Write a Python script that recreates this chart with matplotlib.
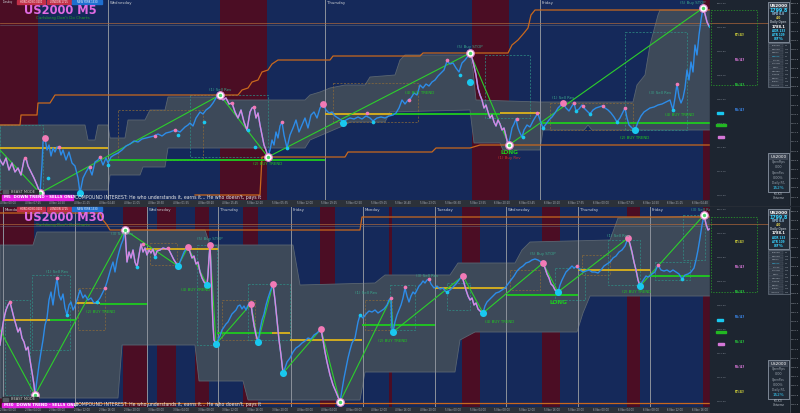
import numpy as np
import matplotlib.pyplot as plt
from matplotlib.patches import Rectangle, Polygon

W, H = 800, 413
CHART_W = 710

navy = '#15295a'
maroon = '#4b0d24'
band_grey = '#3d4959'
band_edge = '#5a6571'
blue = '#2d8ce8'
pink = '#da88dc'
green = '#1fcb1f'
yellow = '#ddb31c'
orange = '#c9681d'
cyan = '#19c8ef'
dot_pink = '#f27ab6'
sep_grey = '#8b919b'
teal = '#2f8f86'
panel_bg = '#1d2530'
strip_bg = '#2c3139'

# ---------------- M5 panel (bar index, row from top of chart) ----------------
m5_sessions = [(0, 38), (220, 267), (472, 509), (703, 712)]
m5_days = [(108, 'Wednesday'), (325, 'Thursday'), (540, 'Friday')]
m5_band_top = [(0, 125), (85, 125), (88, 140), (95, 140), (98, 125), (108, 125), (110, 138),
               (125, 138), (128, 120), (145, 120), (150, 110), (165, 110), (168, 97), (220, 97),
               (222, 100), (305, 100), (310, 95), (320, 92), (330, 88), (345, 85), (365, 85),
               (370, 77), (395, 75), (400, 60), (405, 55), (470, 55), (473, 70), (476, 100),
               (540, 102), (633, 102), (637, 85), (645, 75), (650, 45), (658, 15), (660, 10),
               (712, 10)]
m5_band_bottom = [(0, 190), (108, 190), (110, 175), (140, 175), (143, 167), (165, 167), (168, 148),
                  (305, 148), (310, 140), (345, 125), (350, 122), (385, 122), (390, 112), (470, 110),
                  (474, 143), (500, 143), (503, 150), (540, 150), (543, 130), (584, 130), (588, 125),
                  (592, 130), (712, 130)]
m5_path = [(0, 160), (3, 165), (6, 158), (9, 170), (12, 163), (15, 172), (18, 168), (21, 175), (24, 160),
           (26, 158), (28, 166), (31, 172), (34, 178), (37, 185), (40, 193), (42, 165), (43, 142), (45, 138),
           (47, 150), (49, 145), (51, 156), (53, 148), (55, 152), (57, 147), (59, 147), (61, 155), (63, 150),
           (66, 160), (69, 152), (72, 163), (75, 166), (78, 178), (80, 193), (83, 178), (86, 172), (89, 167),
           (92, 175), (95, 162), (98, 160), (100, 157), (103, 165), (106, 158), (108, 163), (111, 157),
           (114, 155), (118, 153), (122, 150), (126, 146), (130, 144), (134, 141), (138, 142), (142, 139),
           (146, 138), (150, 137), (154, 136), (158, 134), (162, 136), (166, 133), (170, 132), (175, 130),
           (180, 132), (185, 127), (188, 125), (190, 123), (193, 126), (196, 118), (200, 112), (203, 114),
           (206, 110), (210, 107), (213, 103), (216, 98), (220, 95),
           (223, 100), (226, 98), (229, 104), (232, 103), (235, 112), (238, 118), (241, 110), (244, 122),
           (247, 130), (250, 112), (252, 108), (254, 107), (256, 118), (258, 113), (260, 125), (262, 135),
           (264, 145), (266, 150), (268, 157),
           (270, 150), (272, 140), (274, 145), (276, 132), (278, 138), (280, 126), (282, 122), (284, 135),
           (287, 148), (290, 135), (293, 128), (296, 120), (299, 132), (302, 125), (305, 118), (308, 128),
           (311, 115), (314, 112), (317, 118), (320, 108), (323, 104), (326, 110), (329, 113), (332, 112),
           (335, 116), (338, 118), (341, 120), (343, 123), (346, 120), (350, 118), (354, 119), (358, 117),
           (362, 119), (366, 116), (370, 118), (373, 121), (377, 118), (381, 117), (385, 118), (389, 116),
           (393, 115), (396, 113), (399, 108), (402, 100), (405, 104), (408, 100), (411, 98), (414, 93),
           (417, 95), (420, 85), (423, 88), (426, 84), (429, 86), (432, 82), (435, 80), (438, 76), (441, 73),
           (444, 70), (447, 61), (450, 64), (453, 63), (456, 68), (459, 72), (462, 63), (465, 60), (468, 56),
           (470, 53),
           (472, 58), (474, 66), (476, 75), (478, 88), (480, 95), (482, 100), (484, 108), (486, 105),
           (488, 112), (490, 118), (492, 115), (494, 122), (496, 126), (498, 120), (500, 124), (502, 130),
           (504, 128), (506, 136), (508, 145),
           (510, 138), (512, 128), (514, 124), (516, 119), (518, 128), (520, 133), (522, 137), (524, 130),
           (527, 125), (530, 127), (533, 121), (536, 116), (538, 114), (540, 120), (543, 128), (546, 124),
           (549, 120), (552, 117), (555, 113), (558, 108), (561, 105), (563, 103), (566, 108), (569, 111),
           (572, 106), (574, 103), (576, 111), (579, 109), (582, 105), (585, 109), (588, 112), (590, 114),
           (593, 110), (596, 108), (599, 107), (602, 106), (605, 108), (608, 110), (611, 113), (614, 117),
           (617, 122), (620, 118), (623, 112), (625, 108), (627, 118), (629, 125), (632, 128), (635, 130),
           (638, 122), (641, 116), (644, 112), (647, 110), (650, 108), (654, 107), (658, 105), (662, 104),
           (666, 102), (670, 100), (673, 110), (675, 98), (677, 84), (679, 97), (681, 103), (683, 98),
           (685, 88), (687, 70), (689, 80), (691, 62), (693, 72), (695, 45), (697, 55), (699, 35), (701, 20),
           (703, 8), (705, 14), (707, 22), (709, 26), (711, 28)]
m5_down_legs = [(0, 40), (220, 268), (470, 508), (703, 712)]
m5_zigzag = [(0, 150), (40, 193), (220, 95), (268, 157), (470, 53), (509, 145), (703, 8)]
m5_yellow = [(0, 108, 148), (325, 392, 114), (500, 540, 113)]
m5_green = [(108, 325, 160), (392, 500, 114), (540, 712, 123)]
m5_resistance = [(0, 125), (20, 125), (21, 115), (37, 115), (38, 103), (50, 103), (55, 95), (238, 95),
                 (242, 90), (248, 88), (252, 82), (258, 80), (262, 72), (268, 70), (272, 64), (278, 60),
                 (330, 60), (333, 56), (420, 56), (423, 53), (508, 53), (512, 45), (518, 40), (524, 33),
                 (528, 28), (531, 15), (535, 10), (712, 10)]
m5_support = [(195, 195), (260, 195), (262, 157), (345, 157), (348, 152), (432, 152), (436, 148),
              (470, 148), (480, 145), (712, 145)]
m5_daily_level = 23
m5_pink_dots = [(25, 158), (59, 147), (90, 167), (100, 157), (155, 136), (175, 130), (232, 103),
                (254, 107), (282, 122), (367, 113), (409, 100), (447, 60), (517, 119), (537, 113),
                (574, 103), (583, 106), (603, 106), (625, 108), (677, 84)]
m5_pink_big = [(45, 138), (323, 104), (563, 103)]
m5_cyan_dots = [(48, 178), (108, 165), (178, 135), (204, 122), (248, 130), (255, 147), (287, 148),
                (373, 122), (460, 75), (523, 137), (543, 128), (576, 111), (590, 114), (617, 122),
                (673, 110), (710, 26)]
m5_cyan_big = [(80, 193), (343, 123), (470, 82), (635, 130)]
m5_pivots = [(40, 193), (220, 95), (268, 157), (470, 53), (509, 145), (703, 8)]
m5_boxes = [(0, 125, 43, 193, teal), (118, 110, 203, 160, '#8a6a3a'), (190, 95, 268, 157, teal),
            (333, 83, 418, 122, '#8a6a3a'), (485, 55, 530, 118, teal), (550, 103, 633, 130, '#8a6a3a'),
            (625, 32, 687, 130, teal)]
m5_labels = [(220, 90, '(1) Sell Rev', '#3aa58c', 2.8, False),
             (268, 164, '(2) BUY TREND', green, 2.8, False),
             (420, 93, '(4) BUY TREND', green, 2.8, False),
             (470, 47, '(5) Buy STOP', '#3aa58c', 2.8, False),
             (509, 153, 'LONG', green, 4.2, True),
             (509, 158.5, '(1) Buy Rev', '#d23030', 2.8, False),
             (563, 98, '(1) Sell Rev', '#3aa58c', 2.8, False),
             (660, 93, '(3) Sell Rev', '#3aa58c', 2.8, False),
             (635, 138, '(2) BUY TREND', green, 2.8, False),
             (680, 115, '(4) BUY TREND', green, 2.8, False),
             (693, 3, '(5) Buy STOP', '#3aa58c', 2.8, False)]

# ---------------- M30 panel ----------------
m30_sessions = [(0, 34), (123, 147), (157, 176), (195, 209), (243, 258), (320, 335), (389, 392),
                (462, 480), (542, 560), (627, 640), (703, 712)]
m30_days = [(3, 'Monday'), (75, None), (147, 'Wednesday'), (218, 'Thursday'), (291, 'Friday'),
            (363, 'Monday'), (435, 'Tuesday'), (506, 'Wednesday'), (578, 'Thursday'), (650, 'Friday')]
m30_band_top = [(0, 245), (33, 245), (37, 232), (120, 232), (125, 230), (205, 230), (210, 245),
                (293, 245), (300, 285), (375, 283), (385, 275), (450, 275), (458, 263), (515, 263),
                (522, 250), (530, 242), (610, 240), (618, 218), (712, 216)]
m30_band_bottom = [(0, 398), (118, 398), (122, 345), (195, 345), (199, 381), (243, 381), (248, 400),
                   (360, 400), (365, 372), (455, 372), (460, 340), (475, 332), (577, 332), (583, 313),
                   (590, 296), (712, 296)]
m30_path = [(0, 345), (2, 330), (4, 318), (6, 310), (8, 305), (10, 302), (12, 310), (14, 318), (16, 325),
            (18, 332), (20, 328), (22, 338), (24, 342), (26, 350), (28, 347), (30, 360), (32, 372),
            (34, 385), (35, 395),
            (37, 380), (39, 365), (41, 352), (43, 340), (45, 325), (47, 318), (49, 300), (51, 292),
            (53, 305), (55, 290), (57, 278), (59, 295), (61, 300), (63, 294), (65, 308), (67, 315),
            (69, 305), (71, 302), (73, 310), (75, 306), (77, 300), (80, 290), (83, 298), (85, 295),
            (88, 300), (91, 298), (94, 303), (97, 302), (100, 298), (103, 292), (105, 288), (107, 282),
            (109, 275), (111, 268), (113, 262), (115, 272), (117, 260), (119, 252), (121, 245), (123, 240),
            (125, 230),
            (127, 262), (129, 252), (131, 258), (133, 250), (135, 262), (137, 267), (139, 255), (141, 244),
            (143, 252), (145, 248), (147, 255), (149, 250), (151, 253), (153, 249), (155, 257), (157, 251),
            (160, 250), (163, 248), (166, 249), (168, 248), (170, 252), (172, 256), (174, 260), (176, 263),
            (178, 266), (180, 262), (182, 257), (184, 252), (186, 249), (188, 247),
            (190, 252), (192, 258), (194, 256), (196, 264), (198, 262), (200, 272), (202, 278), (204, 282),
            (207, 285), (208, 275), (209, 258), (210, 245), (211, 270), (212, 300), (213, 325), (214, 340),
            (216, 344),
            (218, 340), (220, 336), (222, 330), (224, 327), (226, 324), (228, 322), (230, 318), (232, 314),
            (234, 312), (236, 310), (238, 306), (240, 305), (242, 309), (244, 306), (246, 310), (248, 305),
            (251, 304),
            (252, 312), (254, 325), (256, 335), (258, 342), (260, 330), (262, 320), (264, 314), (266, 305),
            (268, 298), (270, 292), (273, 284),
            (275, 300), (277, 320), (279, 340), (281, 355), (283, 373), (285, 368), (287, 362), (290, 358),
            (293, 352), (296, 348), (299, 346), (302, 343), (305, 341), (308, 338), (311, 339), (314, 335),
            (317, 333), (321, 329),
            (323, 340), (325, 352), (327, 362), (330, 375), (333, 385), (336, 392), (340, 402),
            (342, 390), (344, 378), (346, 368), (348, 358), (350, 350), (352, 343), (355, 338), (358, 322),
            (360, 315), (363, 318), (366, 314), (369, 311), (372, 312), (375, 310), (378, 313), (381, 311),
            (384, 309), (387, 305), (389, 300), (391, 298), (392, 330), (393, 332), (395, 322), (397, 315),
            (399, 310), (401, 305), (403, 298), (405, 288), (407, 296), (409, 302), (411, 296), (413, 292),
            (415, 294), (417, 290), (419, 286), (421, 284), (423, 281), (425, 283), (427, 280), (429, 279),
            (431, 284), (434, 288), (437, 286), (440, 289), (443, 288), (445, 291), (447, 292), (450, 290),
            (453, 287), (456, 284), (459, 280), (462, 276),
            (464, 283), (466, 290), (468, 296), (470, 300), (472, 298), (474, 305), (476, 303), (478, 309),
            (480, 311), (483, 313),
            (485, 306), (487, 302), (490, 299), (493, 296), (496, 293), (499, 292), (502, 290), (505, 288),
            (508, 284), (511, 280), (514, 276), (517, 271), (520, 268), (523, 266), (526, 263), (529, 262),
            (532, 260), (535, 259), (538, 260), (541, 262), (543, 263),
            (545, 268), (547, 274), (549, 278), (551, 284), (553, 286), (555, 290), (558, 292),
            (560, 285), (562, 280), (564, 276), (566, 272), (568, 270), (570, 268), (572, 266), (574, 268),
            (577, 266), (580, 270), (583, 272), (586, 271), (589, 270), (592, 272), (595, 272), (598, 273),
            (601, 270), (604, 266), (607, 264), (610, 262), (613, 258), (616, 256), (619, 252), (622, 250),
            (625, 246), (628, 238),
            (630, 244), (632, 252), (634, 262), (636, 270), (638, 280), (640, 286),
            (642, 282), (644, 279), (646, 276), (648, 277), (650, 276), (652, 274), (655, 272), (658, 265),
            (661, 270), (664, 271), (667, 270), (670, 272), (673, 270), (676, 272), (679, 274), (682, 279),
            (685, 275), (688, 274), (691, 272), (694, 268), (696, 260), (698, 250), (700, 238), (702, 225),
            (704, 215), (706, 224), (708, 230), (711, 228)]
m30_down_legs = [(0, 35), (125, 178), (188, 216), (251, 258), (273, 283), (321, 340), (462, 483),
                 (543, 558), (628, 640), (704, 712)]
m30_zigzag = [(0, 330), (35, 395), (125, 230), (178, 266), (188, 247), (207, 285), (210, 245), (216, 344),
              (251, 304), (258, 342), (273, 284), (283, 373), (321, 329), (340, 402), (391, 298),
              (393, 332), (463, 276), (483, 313), (543, 263), (558, 292), (628, 238), (640, 286), (704, 215)]
m30_yellow = [(3, 50, 320), (75, 100, 303), (145, 218, 249), (270, 290, 333), (290, 362, 340),
              (435, 506, 288), (578, 650, 270)]
m30_green = [(50, 75, 320), (100, 147, 304), (217, 272, 333), (362, 435, 325), (507, 578, 295),
             (650, 712, 276)]
m30_resistance = [(0, 213), (100, 213), (103, 220), (107, 225), (110, 230), (360, 230), (362, 217),
                  (712, 217)]
m30_support = [(75, 403), (712, 403)]
m30_daily_level = 224
m30_pink_dots = [(10, 302), (57, 278), (105, 288), (143, 244), (168, 248), (391, 298), (405, 287),
                 (429, 279), (577, 266), (658, 265)]
m30_pink_big = [(188, 247), (210, 245), (251, 304), (273, 284), (321, 329), (463, 276), (543, 263),
                (628, 238)]
m30_cyan_dots = [(67, 315), (97, 302), (137, 267), (155, 257), (447, 292), (682, 279), (360, 315)]
m30_cyan_big = [(178, 266), (207, 285), (216, 344), (258, 342), (283, 373), (393, 332), (483, 313),
                (558, 292), (640, 286)]
m30_pivots = [(35, 395), (125, 230), (340, 402), (704, 215)]
m30_boxes = [(5, 300, 30, 395, teal), (32, 275, 70, 350, teal), (78, 288, 105, 330, '#8a6a3a'),
             (150, 243, 177, 265, '#8a6a3a'), (197, 245, 217, 345, teal), (222, 300, 255, 340, '#8a6a3a'),
             (248, 284, 290, 340, teal), (365, 300, 392, 330, '#8a6a3a'), (390, 285, 415, 330, teal),
             (447, 283, 470, 310, teal), (510, 270, 540, 290, '#8a6a3a'), (555, 268, 585, 300, teal),
             (582, 255, 610, 275, '#8a6a3a'), (608, 240, 640, 285, teal), (655, 262, 690, 280, teal),
             (683, 215, 705, 260, teal)]
m30_labels = [(122, 234, '(3) Sell Rev', '#3aa58c', 2.8, False),
              (57, 272, '(1) Sell Rev', '#3aa58c', 2.8, False),
              (101, 312, '(2) BUY TREND', green, 2.8, False),
              (210, 239, '(5) Buy STOP', '#3aa58c', 2.8, False),
              (196, 290, '(4) BUY TREND', green, 2.8, False),
              (366, 293, '(1) Sell Rev', '#3aa58c', 2.8, False),
              (427, 276, '(3) Sell Rev', '#3aa58c', 2.8, False),
              (393, 341, '(2) BUY TREND', green, 2.8, False),
              (500, 322, '(4) BUY TREND', green, 2.8, False),
              (543, 254, '(5) Buy STOP', '#3aa58c', 2.8, False),
              (558, 303, 'LONG', green, 4.2, True),
              (618, 236, '(1) Sell Rev', '#3aa58c', 2.8, False),
              (637, 292, '(2) BUY TREND', green, 2.8, False),
              (702, 210, '(3) Sell Rev', '#3aa58c', 2.8, False)]

M5 = dict(sessions=m5_sessions, days=m5_days, band_top=m5_band_top, band_bottom=m5_band_bottom,
          path=m5_path, down=m5_down_legs, zigzag=m5_zigzag, yellow=m5_yellow, green=m5_green,
          res=m5_resistance, sup=m5_support, daily=m5_daily_level, pdots=m5_pink_dots, pbig=m5_pink_big,
          cdots=m5_cyan_dots, cbig=m5_cyan_big, pivots=m5_pivots, boxes=m5_boxes, labels=m5_labels)
M30 = dict(sessions=m30_sessions, days=m30_days, band_top=m30_band_top, band_bottom=m30_band_bottom,
           path=m30_path, down=m30_down_legs, zigzag=m30_zigzag, yellow=m30_yellow, green=m30_green,
           res=m30_resistance, sup=m30_support, daily=m30_daily_level, pdots=m30_pink_dots,
           pbig=m30_pink_big, cdots=m30_cyan_dots, cbig=m30_cyan_big, pivots=m30_pivots,
           boxes=m30_boxes, labels=m30_labels)


def xy(points):
    arr = np.array(points, dtype=float)
    return arr[:, 0], arr[:, 1]


def draw_chart(ax, d, top, bottom, tick_labels):
    ax.set_facecolor(navy)
    ax.set_xlim(0, CHART_W)
    ax.set_ylim(bottom, top)
    for a, b in d['sessions']:
        ax.axvspan(a, b, color=maroon, lw=0, zorder=0)

    # envelope band
    bx, bt = xy(d['band_top'])
    lx, lb = xy(d['band_bottom'])
    poly = np.column_stack([np.concatenate([bx, lx[::-1]]), np.concatenate([bt, lb[::-1]])])
    ax.add_patch(Polygon(poly, closed=True, facecolor=band_grey, edgecolor=band_edge, lw=0.6, zorder=1))

    for x, name in d['days']:
        ax.axvline(x, color=sep_grey, lw=0.7, zorder=1.5)
        if name:
            ax.text(x + 2, top + 1, name, fontsize=2.8, color='#c9cdd3', va='top', ha='left', zorder=9)

    # thin daily reference lines
    ax.axhline(d['daily'], color='#b0683a', lw=0.6, alpha=0.8, zorder=1.6)
    ax.axhline(d['daily'] + 2, color='#6b7480', lw=0.4, alpha=0.8, zorder=1.6)

    for x0, y0, x1, y1, c in d['boxes']:
        ax.add_patch(Rectangle((x0, y0), x1 - x0, y1 - y0, fill=False, ec=c, lw=0.5,
                               ls=(0, (3, 2)), zorder=2))

    rx, ry = xy(d['res'])
    ax.plot(rx, ry, color=orange, lw=0.9, zorder=3)
    sx, sy = xy(d['sup'])
    ax.plot(sx, sy, color=orange, lw=0.9, zorder=3)

    for a, b, y in d['yellow']:
        ax.hlines(y, a, b, color=yellow, lw=1.3, zorder=3)
    for a, b, y in d['green']:
        ax.hlines(y, a, b, color=green, lw=1.3, zorder=3)

    zx, zy = xy(d['zigzag'])
    ax.plot(zx, zy, color='#2ccf2c', lw=0.8, zorder=4)

    px, py = xy(d['path'])
    ax.plot(px, py, color=blue, lw=1.0, zorder=5)
    for a, b in d['down']:
        m = (px >= a) & (px <= b)
        ax.plot(px[m], py[m], color=pink, lw=1.0, zorder=5.5)

    for key, c, s in [('pdots', dot_pink, 7), ('pbig', dot_pink, 24), ('cdots', cyan, 7), ('cbig', cyan, 26)]:
        mx, my = xy(d[key])
        ax.scatter(mx, my, s=s, color=c, lw=0, zorder=6)
    vx, vy = xy(d['pivots'])
    ax.scatter(vx, vy, s=30, color='white', edgecolor='#e58ad0', lw=0.8, zorder=7)
    ax.scatter(vx, vy, s=6, color='#4ad46a', lw=0, zorder=7.5)

    for x, y, t, c, fs, bold in d['labels']:
        ax.text(x, y, t, fontsize=fs, color=c, ha='center', va='center',
                fontweight='bold' if bold else 'normal', zorder=8)

    ticks = np.linspace(8, CHART_W - 10, len(tick_labels))
    ax.set_xticks(ticks)
    ax.set_xticklabels(tick_labels)
    ax.tick_params(axis='x', length=0, labelsize=1.9, colors='#a9afb8', pad=0.6)
    ax.set_yticks([])
    for s in ax.spines.values():
        s.set_visible(False)


def status_rows(ov, y, frame):
    ov.add_patch(Rectangle((2, y), 36, 4.5, color='#2a2d33', zorder=10))
    ov.add_patch(Rectangle((3, y + 0.8), 5, 3, color='#555a62', zorder=10))
    ov.text(11, y + 2.3, 'BEAST MODE', fontsize=2.6, color='#c8c8c8', va='center', zorder=11)
    ov.add_patch(Rectangle((2, y + 5.5), 71, 4.5, color='#e21fe0', zorder=10))
    ov.text(4, y + 7.8, frame + '  DOWN TREND - SELLS ONLY', fontsize=2.9, color='white',
            fontweight='bold', va='center', zorder=11)
    ov.text(75, y + 7.8, "COMPOUND INTEREST: He who understands it, earns it... He who doesn't, pays it",
            fontsize=3.3, color='#e8e8e8', va='center', zorder=11)


def header(ov, y, title, title_y):
    for x0, x1, t, c in [(17, 45, 'HONG KONG 0600', '#c23048'), (47, 71, 'LONDON 1715', '#c23048'),
                         (72, 102, 'NEW YORK 1330', '#1f6fd0')]:
        ov.add_patch(Rectangle((x0, y), x1 - x0, 4, color=c, zorder=10))
        ov.text((x0 + x1) / 2, y + 2, t, fontsize=1.8, color='white', ha='center', va='center', zorder=11)
    ov.text(24, title_y, title, fontsize=8.3, fontweight='bold', color='#e16be3', va='center', zorder=11)
    ov.text(36, title_y + 7.5, "Carlsberg Don't Do Charts", fontsize=3.0, color='#1f9e2c',
            va='center', zorder=11)


def right_panel(ov, y0, tags, daily):
    ov.add_patch(Rectangle((710, y0), 90, 205, color=panel_bg, zorder=1))
    ov.add_patch(Rectangle((790, y0), 10, 205, color='#161c24', zorder=1))
    ov.plot([790, 790], [y0, y0 + 205], color='#59616c', lw=0.5, zorder=2)
    ov.plot([710, 768], [daily, daily], color='#b0683a', lw=0.6, alpha=0.8, zorder=2)
    for i, lv in enumerate(np.linspace(1801.5, 1760.5, 22)):
        ov.text(795, y0 + 4 + i * 9.2, '%.1f' % lv, fontsize=1.7, color='#a7adb6',
                ha='center', va='center', zorder=3)
    for i, lv in enumerate(np.linspace(1800.0, 1770.0, 9)):
        ov.text(722, y0 + 3 + i * 24, '%.2f' % lv, fontsize=1.7, color='#8b939e',
                ha='center', va='center', zorder=3)
    ov.add_patch(Rectangle((711, y0 + 10), 46, 75, fill=False, ec='#2aa52a', lw=0.5,
                           ls=(0, (2, 2)), zorder=2))
    for i, (t, c) in enumerate(tags):
        ov.text(740, y0 + 35 + i * 25, t, fontsize=2.6, color=c, ha='center', va='center',
                fontweight='bold', zorder=3)
    ov.add_patch(Rectangle((717, y0 + 112), 6, 2, color=cyan, zorder=3))
    ov.add_patch(Rectangle((716, y0 + 124), 10, 2, color='#22b822', zorder=3))
    ov.add_patch(Rectangle((718, y0 + 136), 6, 2, color='#d577d8', zorder=3))

    # account box
    ov.add_patch(Rectangle((768, y0 + 2), 21, 40, fc='#222b37', ec='#a1acbb', lw=0.5, zorder=3))
    ov.add_patch(Rectangle((769, y0 + 3), 19, 6, fc='#3b4452', zorder=3))
    rows = [('US2000', 'white', 3.0), ('1799.8', '#38d2ff', 3.4), ('SPD 0.8', '#9fc7e6', 2.0),
            ('4.0', '#e3d24d', 2.2), ('Daily Open', '#9aa3ad', 1.9), ('1788.1', 'white', 2.6),
            ('ADR 133', '#38d2ff', 2.0), ('ATR 109', '#38d2ff', 2.0), ('87%', '#38d2ff', 3.0)]
    for i, (t, c, fs) in enumerate(rows):
        ov.text(778.5, y0 + 6 + i * 4.1, t, fontsize=fs, color=c, ha='center', va='center',
                fontweight='bold', zorder=4)

    # watch list box
    ov.add_patch(Rectangle((768, y0 + 43), 22, 44, fc='#222b37', ec='#7d8896', lw=0.4, zorder=3))
    names = ['EURUSD', 'GBPUSD', 'USDJPY', 'US2000', 'DAX30', 'XAUUSD', 'USOIL', 'NAS100',
             'SPX500', 'GBPJPY', 'EURJPY', 'AUDUSD']
    for i, n in enumerate(names):
        c = '#38d2ff' if n == 'US2000' else '#b8bfc8'
        ov.add_patch(Rectangle((769, y0 + 44.2 + i * 3.6), 14, 3, fc='#2f3845', ec='#5d6672', lw=0.2, zorder=3))
        ov.text(776, y0 + 45.7 + i * 3.6, n, fontsize=1.5, color=c, ha='center', va='center', zorder=4)
        ov.text(786.5, y0 + 45.7 + i * 3.6, 'M' + str(5 + i % 3 * 10), fontsize=1.4,
                color='#9aa3ad', ha='center', va='center', zorder=4)

    # open position box
    ov.add_patch(Rectangle((768, y0 + 153), 21, 39, fc='#222b37', ec='#a1acbb', lw=0.5, zorder=3))
    ov.add_patch(Rectangle((769, y0 + 154), 19, 6, fc='#3b4452', zorder=3))
    rows = [('US2000', 'white', 3.0), ('OpenPips', '#9aa3ad', 2.2), ('0.00', '#9aa3ad', 2.4),
            ('OpenPos', '#9aa3ad', 2.2), ('0.00%', '#9aa3ad', 2.4), ('Daily P/L', '#9aa3ad', 2.2),
            ('152%', '#38d2ff', 3.0)]
    for i, (t, c, fs) in enumerate(rows):
        ov.text(778.5, y0 + 157 + i * 5.2, t, fontsize=fs, color=c, ha='center', va='center', zorder=4)
    ov.text(778.5, y0 + 196, 'Kill-Kill\nUniverse', fontsize=2.0, color='#b8bfc8', ha='center',
            va='center', linespacing=1.0, zorder=4)


def main():
    fig = plt.figure(figsize=(W / 100, H / 100), dpi=100, facecolor=strip_bg)

    ax_top = fig.add_axes([0, (H - 200) / H, CHART_W / W, 200 / H])
    ax_bot = fig.add_axes([0, (H - 407) / H, CHART_W / W, 200 / H])

    m5_ticks = ['%d Nov %02d:%02d' % (4 + i // 10, (i * 7) % 24, (i * 25) % 60) for i in range(29)]
    m30_ticks = ['%d Nov %02d:00' % (2 + i // 6, (i * 4) % 24) for i in range(29)]
    draw_chart(ax_top, M5, 0, 200, m5_ticks)
    draw_chart(ax_bot, M30, 207, 407, m30_ticks)

    ov = fig.add_axes([0, 0, 1, 1])
    ov.set_xlim(0, W)
    ov.set_ylim(H, 0)
    ov.axis('off')
    ov.patch.set_alpha(0)

    right_panel(ov, 0, [('[T/4]', '#d4d43a'), ('[S/4]', '#d877d8'), ('[S/4]', '#27c23a'),
                        ('[S/4]', '#3a86e8')], m5_daily_level)
    right_panel(ov, 207, [('[T/4]', '#d4d43a'), ('[S/4]', '#d877d8'), ('[S/4]', '#27c23a'),
                          ('[S/4]', '#3a86e8'), ('[S/4]', '#27c23a'), ('[S/4]', '#d877d8'),
                          ('[T/4]', '#d4d43a')], m30_daily_level)

    header(ov, 0, 'US2000 M5', 10)
    header(ov, 207, 'US2000 M30', 217.5)
    ov.text(2, 0.5, 'Tuesday', fontsize=1.8, color='#c9cdd3', va='top', zorder=11)
    status_rows(ov, 189.5, 'M5')
    status_rows(ov, 397, 'M30')

    fig.savefig('out.png', dpi=100, facecolor=fig.get_facecolor())


if __name__ == '__main__':
    main()
